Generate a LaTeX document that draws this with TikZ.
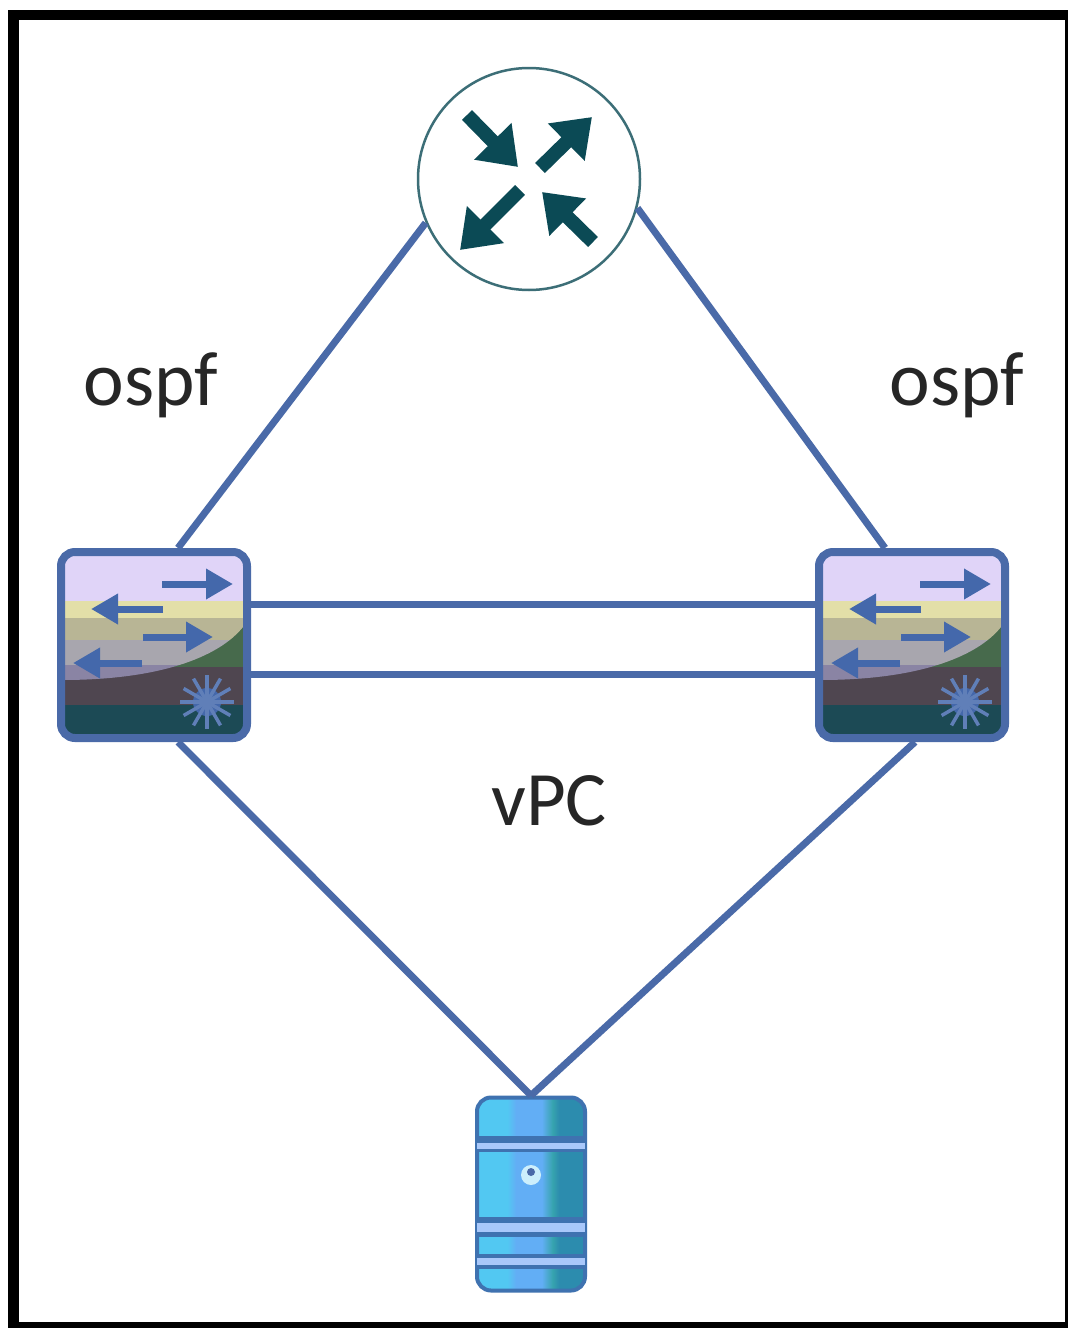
\documentclass[tikz,border=0pt]{standalone}
\usepackage{fontspec}
\usepackage{xcolor}
\usetikzlibrary{arrows.meta}
\setmainfont{Carlito}

\definecolor{linkblue}{HTML}{4A6AA8}
\definecolor{arrowblue}{HTML}{4468AB}
\definecolor{routerteal}{HTML}{0B4A55}
\definecolor{srvedge}{HTML}{3F72B0}
\definecolor{srvgap}{HTML}{A9C8FA}
\definecolor{srva}{HTML}{52C8F2}
\definecolor{srvb}{HTML}{62AEF5}
\definecolor{srvc}{HTML}{36A3AE}
\definecolor{srvd}{HTML}{2C8CAE}
\definecolor{swlilac}{HTML}{E0D4F8}
\definecolor{swyellow}{HTML}{E3DFA8}
\definecolor{swtan}{HTML}{B8B595}
\definecolor{swgrey}{HTML}{A8A6AE}
\definecolor{swmauve}{HTML}{8A84A4}
\definecolor{swbrown}{HTML}{4F4650}
\definecolor{swgreen}{HTML}{476A4C}
\definecolor{swteal}{HTML}{1C4A55}
\pgfdeclarehorizontalshading{srvshade}{100bp}{
  color(0bp)=(srva); color(39bp)=(srva); color(43bp)=(srvb);
  color(55bp)=(srvb); color(60bp)=(srvc); color(63bp)=(srvd); color(100bp)=(srvd)}

\tikzset{
  link/.style={draw=linkblue, line width=7pt},
  lbl/.style={font=\fontsize{77}{77}\selectfont, text=black!85},
  swbox/.style={draw=linkblue, line width=8pt, rounded corners=14pt, minimum size=186pt, inner sep=0pt},
  srvbox/.style={draw=srvedge, line width=4pt, rounded corners=14pt, minimum width=108pt, minimum height=193pt, inner sep=0pt, shading=srvshade},
  rarrow/.style={draw=routerteal, line width=14pt, -{Triangle[length=36pt, width=50pt]}},
  swarrow/.style={draw=arrowblue, line width=7pt, -{Triangle[length=27pt, width=29pt]}},
  swicon/.pic={
    \begin{scope}
    \clip[rounded corners=12pt] (-92,-92) rectangle (92,92);
    \fill[swbrown] (-92,20) rectangle (92,62);
    \fill[swgreen] (-92,-30) rectangle (92,22);
    \fill[swteal] (-92,60) rectangle (92,92);
    \begin{scope}
    \clip (-92,-92) -- (92,-92) -- (92,-22) .. controls (70,10) and (10,35) .. (-92,35) -- cycle;
    \fill[swlilac] (-92,-92) rectangle (92,-44);
    \fill[swyellow] (-92,-44) rectangle (92,-27);
    \fill[swtan] (-92,-27) rectangle (92,-5);
    \fill[swgrey] (-92,-5) rectangle (92,20);
    \fill[swmauve] (-92,20) rectangle (92,40);
    \end{scope}
    \end{scope}
    \draw[swarrow] (8,-61) -- (79,-61);
    \draw[swarrow] (9,-36) -- (-63,-36);
    \draw[swarrow] (-11,-8) -- (59,-8);
    \draw[swarrow] (-12,18) -- (-81,18);
    \fill[arrowblue] (53,57) circle (14);
    \foreach \a in {0,30,...,330}
      \draw[arrowblue!85!white, line width=3.5pt] (53,57) -- +(\a:27);
  }
}

\begin{document}
\begin{tikzpicture}[x=1pt, y=-1pt]
\useasboundingbox (0,0) rectangle (1068,1328);
\fill[black] (8,10) rectangle (1068,1328);
\fill[white] (19,20) rectangle (1065,1322);

\node[circle, draw=routerteal!80, line width=2.5pt, minimum size=222pt, inner sep=0pt] (r) at (529,179) {};
\draw[rarrow] (467,115) -- (518,167);
\draw[rarrow] (540,168) -- (592,117);
\draw[rarrow] (520,190) -- (460,250);
\draw[rarrow] (593,242) -- (542,192);

\pic at (154,645) {swicon};
\pic at (912,645) {swicon};
\node[swbox] (sl) at (154,645) {};
\node[swbox] (sr) at (912,645) {};

\node[srvbox] (s) at (531,1194) {};
\fill[srvedge] (477,1136) rectangle (585,1143);
\fill[srvgap] (477,1143) rectangle (585,1149);
\fill[srvedge] (477,1149) rectangle (585,1152);
\fill[srvedge] (477,1217) rectangle (585,1223);
\fill[srvgap] (477,1223) rectangle (585,1232);
\fill[srvedge] (477,1232) rectangle (585,1237);
\fill[srvedge] (477,1254) rectangle (585,1258);
\fill[srvgap] (477,1258) rectangle (585,1265);
\fill[srvedge] (477,1265) rectangle (585,1269);
\node[circle, fill=white!80!cyan, minimum size=20pt, inner sep=0pt] (k) at (531,1175) {};
\fill[linkblue] (531,1172) circle (4);

\draw[link] (r.203) -- ([xshift=24pt]sl.north);
\draw[link] (r.-15) -- ([xshift=-27pt]sr.north);
\draw[link] ([yshift=41pt]sl.east) -- ([yshift=41pt]sr.west);
\draw[link] ([yshift=-29pt]sl.east) -- ([yshift=-29pt]sr.west);
\draw[link] ([xshift=24pt]sl.south) -- (s.north);
\draw[link] ([xshift=3pt]sr.south) -- (s.north);

\node[lbl] (ol) at (151,385) {ospf};
\node[lbl] (or) at (957,385) {ospf};
\node[lbl] (v) at (549,801) {vPC};
\end{tikzpicture}
\end{document}
